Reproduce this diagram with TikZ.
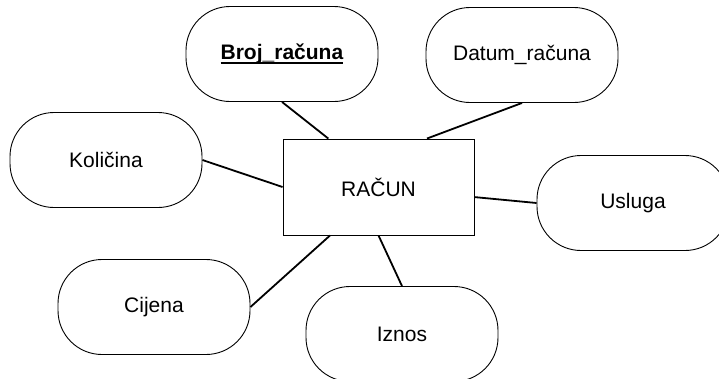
\documentclass[tikz,border=0pt]{standalone}
\usepackage{fontspec}
\setmainfont{Liberation Sans}
\usepackage{tikz}
\newcommand\keyattr[1]{% bold, thick underline
  \setbox0\hbox{\textbf{#1}}\rlap{\rule[-4pt]{\wd0}{2pt}}\box0}

\begin{document}
\begin{tikzpicture}[x=1pt,y=-1pt]
		\tikzstyle{every node}=[font=\fontsize{21}{25}\selectfont]
		\tikzstyle{attr}=[draw,line width=0.9pt,rounded corners=44pt,
				      minimum width=192pt,minimum height=95pt,inner sep=0pt]
		\tikzstyle{entity}=[draw,line width=0.9pt,
				      minimum width=191pt,minimum height=96pt,inner sep=0pt]
		\tikzstyle{link}=[line width=1.8pt]

\useasboundingbox (0,0) rectangle (719,378);

\node[entity] at (378.5,187) (racun) {RAČUN};

\node[attr] at (282,54) (broj) {\keyattr{Broj\_računa}};
\node[attr] at (522,55) (datum) {Datum\_računa};
\node[attr] at (106,160) (kolicina) {Količina};
\node[attr] at (633,203) (usluga) {Usluga};
\node[attr] at (154,307) (cijena) {Cijena};
\node[attr] at (402,334) (iznos) {Iznos};

\draw[link] (broj.south) -- (racun.136);
\draw[link] (datum.south) -- (racun.45);
\draw[link] (kolicina.east) -- (racun.west);
\draw[link] (usluga.west) -- (racun.-6);
\draw[link] (cijena.east) -- (racun.225);
\draw[link] (iznos.north) -- (racun.south);

\end{tikzpicture}
\end{document}
